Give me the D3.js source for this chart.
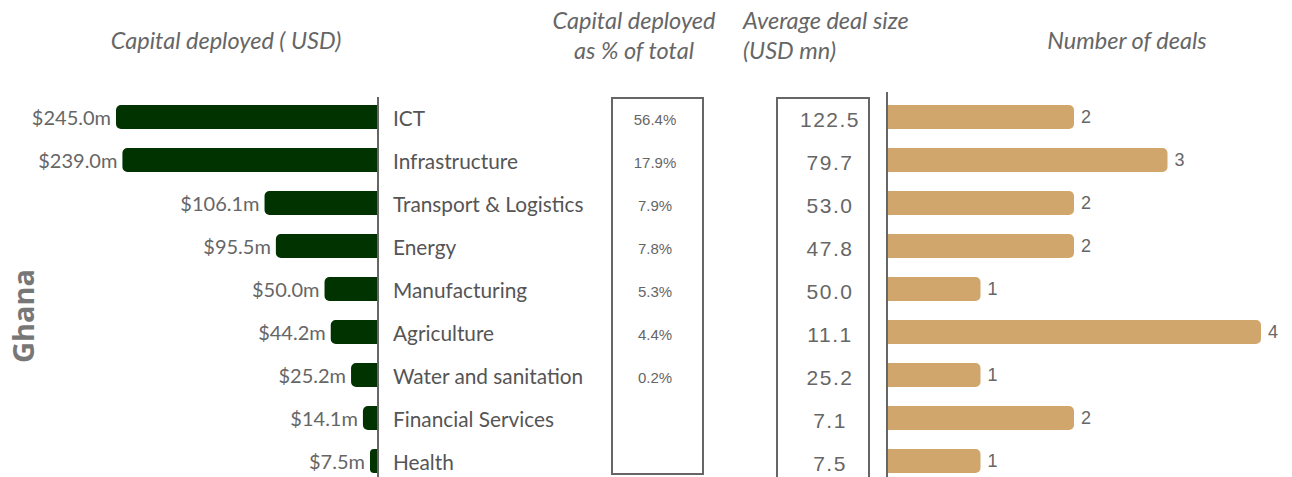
<!DOCTYPE html>
<html lang="en">
<head>
  <meta charset="UTF-8">
  <title>Ghana deals by sector</title>
  <style>
    body { margin: 0; background: #fff; }
    svg { display: block; }
    .title { font-family: Lato, "Open Sans", sans-serif; font-style: italic; font-size: 23.5px; fill: #666; }
    .cat { font-family: Lato, sans-serif; font-size: 20.8px; fill: #555; }
    .val { font-family: Lato, sans-serif; font-size: 20px; fill: #666; }
    .num { font-family: "Liberation Sans", Arial, sans-serif; fill: #666; }
  </style>
</head>
<body>
  <div id="chart"></div>
  <script src="https://cdn.jsdelivr.net/npm/d3@7"></script>
  <script>
    // data
    var sectors = ['ICT', 'Infrastructure', 'Transport & Logistics', 'Energy', 'Manufacturing',
      'Agriculture', 'Water and sanitation', 'Financial Services', 'Health'];
    var capital = [245.0, 239.0, 106.1, 95.5, 50.0, 44.2, 25.2, 14.1, 7.5];
    var sharePct = ['56.4%', '17.9%', '7.9%', '7.8%', '5.3%', '4.4%', '0.2%', '', ''];
    var avgDeal = [122.5, 79.7, 53.0, 47.8, 50.0, 11.1, 25.2, 7.1, 7.5];
    var deals = [2, 3, 2, 2, 1, 4, 1, 2, 1];

    var W = 1292, H = 477;
    var svg = d3.select('#chart').append('svg')
      .attr('width', W)
      .attr('height', H);

    var y = d3.scaleBand()
      .domain(sectors)
      .range([95.5, 482.5])
      .paddingInner(0.44)
      .paddingOuter(0.22);
    var bh = y.bandwidth();
    var cy = function (d) { return y(d) + bh / 2; };

    // left: capital deployed, bars grow leftwards from the axis
    var axisL = 378;
    var xCap = d3.scaleLinear().domain([0, 245]).range([axisL, 116]);

    svg.append('g').selectAll('path')
      .data(sectors)
      .enter().append('path')
      .attr('fill', '#003300')
      .attr('d', function (d, i) {
        var x0 = xCap(capital[i]), w = axisL - x0, r = Math.min(5, w / 2);
        var p = d3.path();
        p.moveTo(axisL, y(d));
        p.lineTo(x0 + r, y(d));
        p.arcTo(x0, y(d), x0, y(d) + r, r);
        p.lineTo(x0, y(d) + bh - r);
        p.arcTo(x0, y(d) + bh, x0 + r, y(d) + bh, r);
        p.lineTo(axisL, y(d) + bh);
        p.closePath();
        return p.toString();
      });

    svg.append('g').selectAll('text')
      .data(sectors)
      .enter().append('text')
      .attr('class', 'val')
      .attr('text-anchor', 'end')
      .attr('dominant-baseline', 'central')
      .attr('x', function (d, i) { return xCap(capital[i]) - 5; })
      .attr('y', cy)
      .text(function (d, i) { return '$' + capital[i].toFixed(1) + 'm'; });

    svg.append('line')
      .attr('x1', axisL).attr('x2', axisL)
      .attr('y1', 97).attr('y2', H)
      .attr('stroke', '#666').attr('stroke-width', 2);

    svg.append('g').selectAll('text')
      .data(sectors)
      .enter().append('text')
      .attr('class', 'cat')
      .attr('x', 393)
      .attr('y', cy)
      .attr('dominant-baseline', 'central')
      .text(function (d) { return d; });

    // boxes for share and average deal size
    svg.append('rect')
      .attr('x', 612).attr('y', 98).attr('width', 91).attr('height', 376)
      .attr('fill', 'none').attr('stroke', '#666').attr('stroke-width', 2);
    svg.append('rect')
      .attr('x', 777).attr('y', 98).attr('width', 92).attr('height', 381)
      .attr('fill', 'none').attr('stroke', '#666').attr('stroke-width', 2);

    svg.append('g').selectAll('text')
      .data(sectors)
      .enter().append('text')
      .attr('class', 'num')
      .style('font-size', '15px')
      .attr('text-anchor', 'middle')
      .attr('dominant-baseline', 'central')
      .attr('x', 655)
      .attr('y', function (d) { return cy(d) + 2; })
      .text(function (d, i) { return sharePct[i]; });

    svg.append('g').selectAll('text')
      .data(sectors)
      .enter().append('text')
      .attr('class', 'num')
      .style('font-size', '21px')
      .style('letter-spacing', '1.5px')
      .attr('text-anchor', 'middle')
      .attr('dominant-baseline', 'central')
      .attr('x', 830)
      .attr('y', function (d) { return cy(d) + 2; })
      .text(function (d, i) { return avgDeal[i].toFixed(1); });

    // right: number of deals
    var axisR = 887;
    var xDeals = d3.scaleLinear().domain([0, 4]).range([axisR, 1261]);

    svg.append('g').selectAll('path')
      .data(sectors)
      .enter().append('path')
      .attr('fill', '#D1A66C')
      .attr('d', function (d, i) {
        var x1 = xDeals(deals[i]), r = 5;
        var p = d3.path();
        p.moveTo(axisR, y(d));
        p.lineTo(x1 - r, y(d));
        p.arcTo(x1, y(d), x1, y(d) + r, r);
        p.lineTo(x1, y(d) + bh - r);
        p.arcTo(x1, y(d) + bh, x1 - r, y(d) + bh, r);
        p.lineTo(axisR, y(d) + bh);
        p.closePath();
        return p.toString();
      });

    svg.append('g').selectAll('text')
      .data(sectors)
      .enter().append('text')
      .attr('class', 'num')
      .style('font-size', '18px')
      .attr('dominant-baseline', 'central')
      .attr('x', function (d, i) { return xDeals(deals[i]) + 7; })
      .attr('y', cy)
      .text(function (d, i) { return deals[i]; });

    svg.append('line')
      .attr('x1', axisR).attr('x2', axisR)
      .attr('y1', 92).attr('y2', H)
      .attr('stroke', '#666').attr('stroke-width', 2);

    // headings
    svg.append('text').attr('class', 'title')
      .attr('x', 226).attr('y', 49).attr('text-anchor', 'middle')
      .text('Capital deployed ( USD)');
    var t2 = svg.append('text').attr('class', 'title').attr('text-anchor', 'middle');
    t2.append('tspan').attr('x', 634).attr('y', 29).text('Capital deployed');
    t2.append('tspan').attr('x', 634).attr('y', 59).text('as % of total');
    var t3 = svg.append('text').attr('class', 'title');
    t3.append('tspan').attr('x', 743).attr('y', 29).text('Average deal size');
    t3.append('tspan').attr('x', 743).attr('y', 59).text('(USD mn)');
    svg.append('text').attr('class', 'title')
      .attr('x', 1127).attr('y', 49).attr('text-anchor', 'middle')
      .text('Number of deals');

    svg.append('text')
      .attr('transform', 'translate(34,316) rotate(-90)')
      .attr('text-anchor', 'middle')
      .style('font-family', '"Open Sans", "Noto Sans", sans-serif')
      .style('font-weight', 'bold')
      .style('font-size', '29px')
      .style('fill', '#777')
      .text('Ghana');
  </script>
</body>
</html>
